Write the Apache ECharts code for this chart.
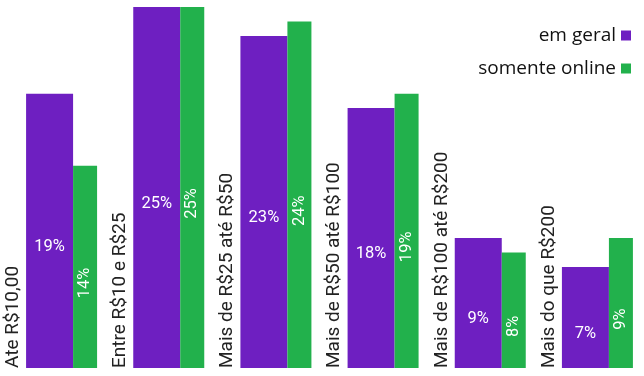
<!DOCTYPE html>
<html>
<head>
<meta charset="utf-8">
<script src="https://cdn.jsdelivr.net/npm/echarts@6/dist/echarts.min.js"></script>
<style>
html, body { margin: 0; padding: 0; background: #fff; }
#main { width: 644px; height: 376px; }
</style>
</head>
<body>
<div id="main"></div>
<script>
// faixas de preço
var faixas = ['Ate R$10,00', 'Entre R$10 e R$25', 'Mais de R$25 até R$50', 'Mais de R$50 até R$100', 'Mais de R$100 até R$200', 'Mais do que R$200'];
var emGeral = [19, 25, 23, 18, 9, 7];
var somenteOnline = [14, 25, 24, 19, 8, 9];
var zeros = [0, 0, 0, 0, 0, 0];

var roxo = '#6E1FC1';
var verde = '#22B14C';

var myChart = echarts.init(document.getElementById('main'));
var option = {
    animation: false,
    grid: { left: 0, right: 1, top: 7, bottom: 8 },
    legend: {
        data: ['em geral', 'somente online'],
        orient: 'vertical',
        align: 'right',
        right: 8,
        top: 21,
        icon: 'rect',
        itemWidth: 10,
        itemHeight: 10,
        itemGap: 14,
        textStyle: { fontFamily: 'Open Sans', fontSize: 19, color: '#111' }
    },
    xAxis: { type: 'category', data: faixas, show: false },
    yAxis: { type: 'value', min: 0, max: 25, show: false },
    series: [
        {
            name: 'faixa',
            type: 'bar',
            data: zeros,
            barWidth: 16,
            barGap: 0,
            itemStyle: { color: 'rgba(0,0,0,0)' },
            label: {
                show: true,
                position: 'insideBottom',
                distance: 0,
                rotate: 90,
                align: 'left',
                verticalAlign: 'middle',
                offset: [0, -5],
                fontFamily: 'Roboto',
                fontSize: 19,
                color: '#222',
                formatter: function (p) { return p.name; }
            }
        },
        {
            name: 'em geral',
            type: 'bar',
            data: emGeral,
            barWidth: 47,
            barGap: 0,
            itemStyle: { color: roxo },
            label: {
                show: true,
                position: 'inside',
                offset: [0, 16],
                fontFamily: 'Roboto',
                fontSize: 16.5,
                color: '#fff',
                formatter: '{c}%'
            }
        },
        {
            name: 'somente online',
            type: 'bar',
            data: somenteOnline,
            barWidth: 24,
            barGap: 0,
            itemStyle: { color: verde },
            label: {
                show: true,
                position: 'inside',
                rotate: 90,
                offset: [-16, 0],
                fontFamily: 'Roboto',
                fontSize: 16.5,
                color: '#fff',
                formatter: '{c}%'
            }
        }
    ]
};
myChart.setOption(option);
</script>
</body>
</html>
